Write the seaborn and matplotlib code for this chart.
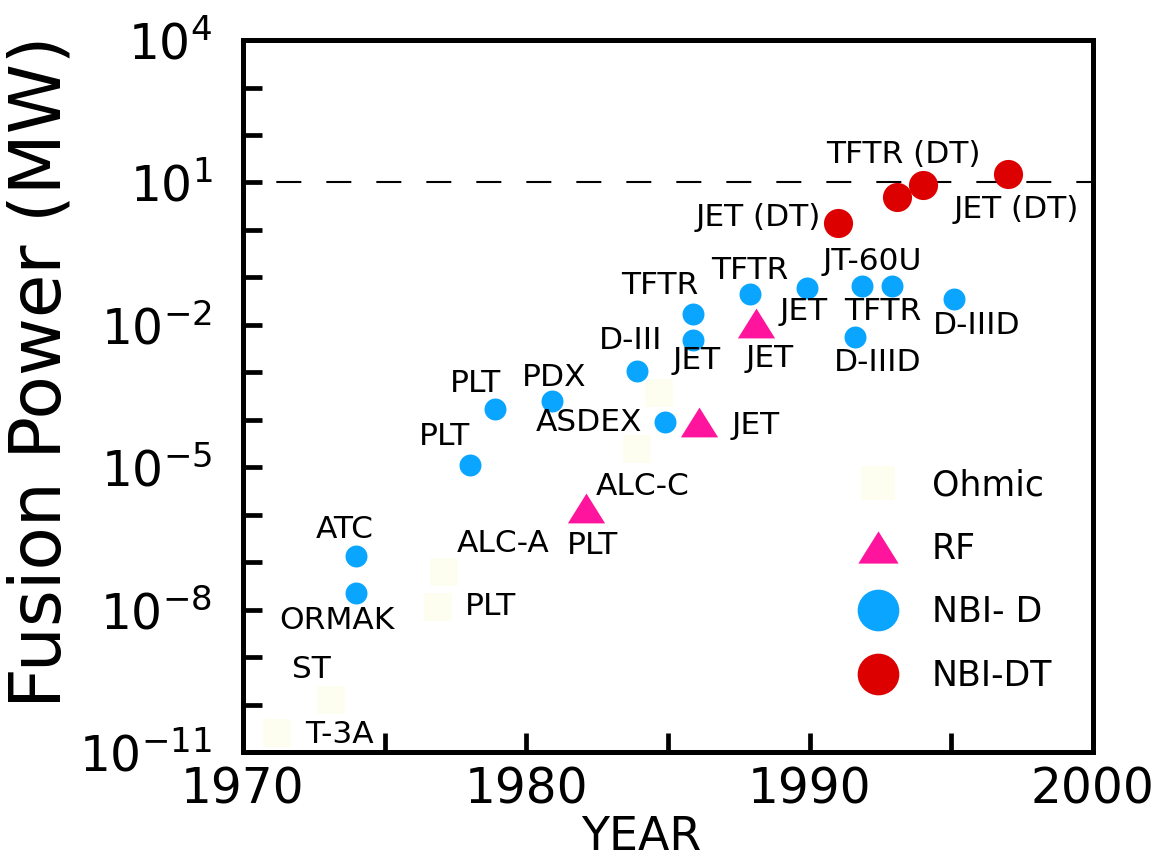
import numpy as np
import pandas as pd
import matplotlib
matplotlib.use("Agg")
import matplotlib.pyplot as plt
from matplotlib.lines import Line2D
from matplotlib.ticker import FixedLocator, FuncFormatter
import seaborn as sns

# ---------------- data ----------------
ohmic_year = [1971.2, 1973.1, 1976.9, 1977.1, 1983.9, 1984.7]
ohmic_log = [-10.6, -9.9, -7.94, -7.2, -4.62, -3.44]

rf_year = [1982.1, 1986.1, 1988.1]
rf_log = [-5.86, -4.05, -1.96]

nbid_year = [1974.0, 1974.0, 1978.0, 1978.9, 1980.9, 1984.9, 1983.9,
             1985.9, 1985.9, 1987.9, 1989.9, 1991.85, 1992.9, 1991.6, 1995.1]
nbid_log = [-6.87, -7.65, -4.95, -3.77, -3.6, -4.05, -2.97,
            -1.77, -2.32, -1.35, -1.22, -1.18, -1.18, -2.26, -1.46]

nbidt_year = [1991.0, 1993.1, 1994.0, 1997.0]
nbidt_log = [0.14, 0.69, 0.95, 1.18]

# annotations: text, year, log10(power)
label_text = ["T-3A", "ST", "ORMAK", "ATC", "PLT", "ALC-A", "PLT", "PLT", "PDX",
              "ASDEX", "ALC-C", "PLT", "JET", "D-III", "JET", "TFTR", "TFTR",
              "JET", "JET", "TFTR", "JT-60U", "D-IIID", "D-IIID",
              "JET (DT)", "TFTR (DT)", "JET (DT)"]
label_year = [1973.4, 1972.4, 1973.3, 1973.6, 1978.75, 1979.2, 1977.1, 1978.2, 1981.0,
              1982.2, 1984.1, 1982.35, 1988.1, 1983.7, 1986.0, 1984.7, 1987.9,
              1988.6, 1989.8, 1992.6, 1992.2, 1992.4, 1995.9,
              1988.2, 1993.3, 1997.3]
label_log = [-10.64, -9.27, -8.22, -6.32, -7.94, -6.6, -4.36, -3.23, -3.1,
             -4.05, -5.4, -6.64, -4.13, -2.34, -2.76, -1.18, -0.85,
             -2.7, -1.71, -1.71, -0.66, -2.8, -2.02,
             0.27, 1.58, 0.42]

categories = ["Ohmic", "RF", "NBI- D", "NBI-DT"]
year_ticks = [1970, 1980, 1990, 2000]

# ---------------- build table ----------------
df = pd.concat([
    pd.DataFrame({"year": ohmic_year, "power": 10.0 ** np.array(ohmic_log), "kind": "Ohmic"}),
    pd.DataFrame({"year": rf_year, "power": 10.0 ** np.array(rf_log), "kind": "RF"}),
    pd.DataFrame({"year": nbid_year, "power": 10.0 ** np.array(nbid_log), "kind": "NBI- D"}),
    pd.DataFrame({"year": nbidt_year, "power": 10.0 ** np.array(nbidt_log), "kind": "NBI-DT"}),
], ignore_index=True)

colors = {"Ohmic": "#FEFEF0", "RF": "#FF159D", "NBI- D": "#0AA5FF", "NBI-DT": "#DD0000"}
tri = [(-1, -0.8), (1, -0.8), (0, 0.8)]
markers = {"Ohmic": "s", "RF": tri, "NBI- D": "o", "NBI-DT": "o"}
sizes = {"Ohmic": 380, "RF": 720, "NBI- D": 250, "NBI-DT": 440}

sns.set_theme(style="white")
plt.rcParams["font.family"] = ["DejaVu Sans"]
plt.rcParams["mathtext.fontset"] = "dejavusans"
plt.rcParams["text.color"] = "black"

fig = plt.figure(figsize=(11.68, 8.61), dpi=100)
ax = fig.add_axes([0.208, 0.1266, 0.7277, 0.8269])

for kind in categories:
    sub = df[df["kind"] == kind]
    sns.scatterplot(data=sub, x="year", y="power", ax=ax, color=colors[kind],
                    marker=markers[kind], s=sizes[kind], linewidth=0, legend=False,
                    zorder=3)

ax.set_yscale("log")
ax.set_xlim(1970, 2000)
ax.set_ylim(1e-11, 1e4)

# dashed line at 10 MW
ax.axhline(10, color="black", lw=1.5, ls=(8, (12, 12)), zorder=1)

# annotations
for t, xv, lv in zip(label_text, label_year, label_log):
    ax.text(xv, 10.0 ** lv, t, ha="center", va="center", fontsize=22.5, color="black", zorder=4)

# ticks
decades = list(range(-11, 5))
ax.yaxis.set_major_locator(FixedLocator([10.0 ** d for d in decades]))
ax.yaxis.set_minor_locator(FixedLocator([]))
ax.yaxis.set_major_formatter(FuncFormatter(
    lambda v, p: (r"$10^{%d}$" % int(round(np.log10(v)))) if int(round(np.log10(v))) % 3 == 1 else ""))
ax.xaxis.set_major_locator(FixedLocator([1970, 1975, 1980, 1985, 1990, 1995, 2000]))
ax.xaxis.set_major_formatter(FuncFormatter(lambda v, p: str(int(v)) if int(v) in year_ticks else ""))

ax.tick_params(axis="both", which="major", direction="in", length=14, width=3.4,
               color="black", labelsize=35, labelcolor="black")
ax.tick_params(axis="y", pad=22)
ax.tick_params(axis="x", pad=10)
ax.tick_params(top=False, right=False, left=True, bottom=True)

for sp in ax.spines.values():
    sp.set_visible(True)
    sp.set_color("black")
    sp.set_linewidth(3.6)

ax.set_xlabel("YEAR", fontsize=33, color="black")
ax.set_ylabel("Fusion Power (MW)", fontsize=51, color="black")
ax.xaxis.set_label_coords((641 - 243) / 850, -0.088)
ax.yaxis.set_label_coords((76 - 243) / 850, 0.534)

# legend
handles = [
    Line2D([], [], ls="", marker="s", markersize=24, markerfacecolor=colors["Ohmic"], markeredgewidth=0),
    Line2D([], [], ls="", marker=tri, markersize=29, markerfacecolor=colors["RF"], markeredgewidth=0),
    Line2D([], [], ls="", marker="o", markersize=30, markerfacecolor=colors["NBI- D"], markeredgewidth=0),
    Line2D([], [], ls="", marker="o", markersize=30, markerfacecolor=colors["NBI-DT"], markeredgewidth=0),
]
leg = ax.legend(handles, categories, loc="upper left", bbox_to_anchor=(0.70, 0.418),
                frameon=False, fontsize=25, labelspacing=0.85, handletextpad=0.8,
                borderaxespad=0, handlelength=1.5)
for t in leg.get_texts():
    t.set_color("black")

fig.savefig("out.png", dpi=100)
